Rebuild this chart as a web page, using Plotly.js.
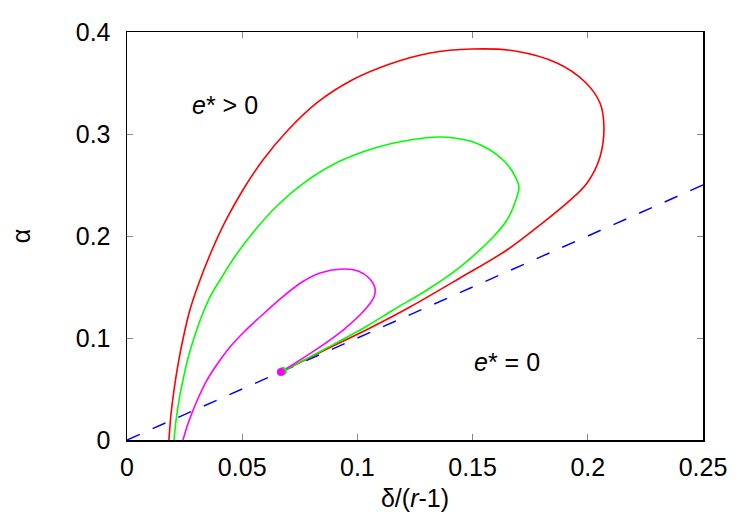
<!DOCTYPE html>
<html>
<head>
<meta charset="utf-8">
<script src="https://cdn.plot.ly/plotly-3.0.1.min.js"></script>
<style>html,body{margin:0;padding:0;background:#fff;}#chart{width:750px;height:525px;}</style>
</head>
<body>
<div id="chart"></div>
<script>
// Red curve
const redX = [0.0182, 0.0191, 0.0204, 0.0221, 0.0243, 0.0273, 0.0317, 0.0369, 0.0430, 0.0503, 0.0590, 0.0699, 0.0829, 0.0977, 0.1141, 0.1315, 0.1497, 0.1684, 0.1866, 0.1988, 0.2053, 0.2070, 0.2053, 0.1997, 0.1910, 0.1814, 0.1649, 0.1445, 0.1228, 0.1055, 0.0859, 0.0668];
const redY = [0, 0.0255, 0.0490, 0.0735, 0.0990, 0.1275, 0.1569, 0.1863, 0.2157, 0.2451, 0.2745, 0.3039, 0.3314, 0.3529, 0.3686, 0.3794, 0.3833, 0.3814, 0.3696, 0.3510, 0.3304, 0.3069, 0.2775, 0.2520, 0.2324, 0.2147, 0.1863, 0.1588, 0.1304, 0.1098, 0.0882, 0.0667];
// Green curve
const greenX = [0.0204, 0.0213, 0.0226, 0.0243, 0.0265, 0.0291, 0.0326, 0.0365, 0.0404, 0.0473, 0.0556, 0.0655, 0.0773, 0.0916, 0.1076, 0.1228, 0.1359, 0.1489, 0.1576, 0.1641, 0.1684, 0.1701, 0.1688, 0.1649, 0.1589, 0.1445, 0.1302, 0.1155, 0.1042, 0.0859, 0.0677];
const greenY = [0, 0.0196, 0.0392, 0.0588, 0.0804, 0.1000, 0.1225, 0.1422, 0.1569, 0.1814, 0.2059, 0.2304, 0.2529, 0.2725, 0.2863, 0.2941, 0.2971, 0.2931, 0.2843, 0.2725, 0.2588, 0.2480, 0.2353, 0.2157, 0.1990, 0.1696, 0.1471, 0.1275, 0.1118, 0.0892, 0.0676];
// Magenta curve
const magentaX = [0.0243, 0.0260, 0.0282, 0.0313, 0.0347, 0.0395, 0.0447, 0.0512, 0.0577, 0.0664, 0.0760, 0.0838, 0.0938, 0.1003, 0.1050, 0.1076, 0.1072, 0.1046, 0.1011, 0.0938, 0.0812, 0.0668];
const magentaY = [0, 0.0127, 0.0265, 0.0431, 0.0588, 0.0755, 0.0912, 0.1069, 0.1206, 0.1382, 0.1549, 0.1637, 0.1676, 0.1657, 0.1588, 0.1490, 0.1402, 0.1314, 0.1225, 0.1078, 0.0873, 0.0667];
// Dashed boundary line alpha = delta/(r-1)
const lineX = [0, 0.25];
const lineY = [0, 0.25];
// End points (green, magenta)
const dotX = [0.0677, 0.0668];
const dotY = [0.0676, 0.0667];

const traces = [
  {x: lineX, y: lineY, mode: 'lines', line: {color: '#0000ff', width: 1.5, dash: '14px,14px'}, hoverinfo: 'skip'},
  {x: redX, y: redY, mode: 'lines', line: {color: '#ff0000', width: 1.6, shape: 'spline', smoothing: 1}},
  {x: greenX, y: greenY, mode: 'lines', line: {color: '#00ff00', width: 1.6, shape: 'spline', smoothing: 1}},
  {x: magentaX, y: magentaY, mode: 'lines', line: {color: '#ff00ff', width: 1.6, shape: 'spline', smoothing: 1}},
  {x: [dotX[0]], y: [dotY[0]], mode: 'markers', marker: {color: '#00ff00', size: 8}},
  {x: [dotX[1]], y: [dotY[1]], mode: 'markers', marker: {color: '#ff00ff', size: 8}}
];

const font = {family: 'Liberation Sans Narrow, Arial Narrow, Liberation Sans, sans-serif', size: 25, color: '#000'};
const axisCommon = {
  showline: true, linecolor: '#000', linewidth: 1.5, mirror: 'ticks',
  ticks: 'inside', ticklen: 6, tickcolor: '#888', tickwidth: 1,
  showgrid: false, zeroline: false, tickfont: font
};

const layout = {
  width: 750, height: 525,
  margin: {l: 127, r: 47, t: 32, b: 85},
  paper_bgcolor: '#fff', plot_bgcolor: '#fff',
  showlegend: false,
  font: font,
  xaxis: Object.assign({}, axisCommon, {range: [0, 0.25], tickvals: [0, 0.05, 0.1, 0.15, 0.2, 0.25], ticktext: ['0', '0.05', '0.1', '0.15', '0.2', '0.25'],
    ticklabelstandoff: 4,
    title: {text: 'δ/(<i>r</i>-1)', font: font, standoff: 10}}),
  yaxis: Object.assign({}, axisCommon, {range: [0, 0.4], tickvals: [0, 0.1, 0.2, 0.3, 0.4], ticktext: ['0', '0.1', '0.2', '0.3', '0.4'],
    ticklabelstandoff: 10,
    title: {text: 'α', font: font, standoff: 38}}),
  annotations: [
    {x: 0.0425, y: 0.328, xref: 'x', yref: 'y', text: '<i>e</i>* > 0', showarrow: false, font: font},
    {x: 0.165, y: 0.0765, xref: 'x', yref: 'y', text: '<i>e</i>* = 0', showarrow: false, font: font}
  ]
};

Plotly.newPlot('chart', traces, layout, {staticPlot: true, displayModeBar: false});
</script>
</body>
</html>
